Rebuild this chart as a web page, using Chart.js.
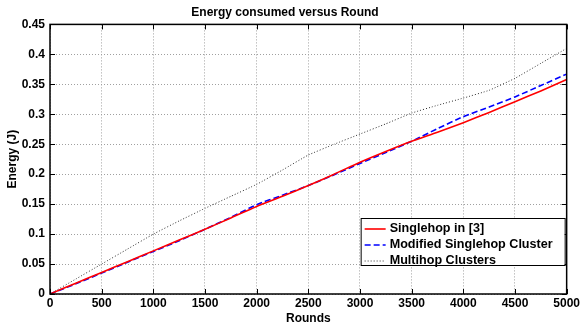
<!DOCTYPE html>
<html>
<head>
<meta charset="utf-8">
<script src="https://cdn.jsdelivr.net/npm/chart.js@4"></script>
<style>
  html, body { margin:0; padding:0; background:#fff; }
  #wrap { width:582px; height:326px; }
</style>
</head>
<body>
<div id="wrap"><canvas id="c" width="582" height="326"></canvas></div>
<script>
// data
const rounds    = [0, 250, 500, 750, 1000, 1250, 1500, 1750, 2000, 2250, 2500, 2750, 3000, 3250, 3500, 3750, 4000, 4250, 4500, 4750, 5000];
const singlehop = [0, 0.018, 0.036, 0.054, 0.072, 0.090, 0.108, 0.127, 0.146, 0.163, 0.181, 0.200, 0.220, 0.238, 0.255, 0.270, 0.286, 0.303, 0.321, 0.339, 0.358];
const modified  = [0, 0.017, 0.035, 0.053, 0.071, 0.089, 0.108, 0.128, 0.149, 0.165, 0.181, 0.199, 0.218, 0.236, 0.255, 0.276, 0.296, 0.312, 0.329, 0.348, 0.367];
const multihop  = [0, 0.025, 0.050, 0.075, 0.100, 0.122, 0.143, 0.163, 0.183, 0.207, 0.232, 0.250, 0.267, 0.284, 0.302, 0.315, 0.327, 0.340, 0.360, 0.385, 0.410];
const seriesNames = ['Singlehop in [3]', 'Modified Singlehop Cluster', 'Multihop Clusters'];
const xTicks = [0, 500, 1000, 1500, 2000, 2500, 3000, 3500, 4000, 4500, 5000];
const yTicks = [0, 0.05, 0.1, 0.15, 0.2, 0.25, 0.3, 0.35, 0.4, 0.45];

const FONT = 'Arial, "Liberation Sans", Helvetica, sans-serif';
const pts = arr => rounds.map((r,i) => ({ x: r, y: arr[i] }));

// MATLAB style box + inward ticks
const boxPlugin = {
  id: 'box',
  afterDatasetsDraw(chart){
    const { ctx, chartArea:a, scales } = chart;
    ctx.save();
    ctx.strokeStyle = '#000';
    ctx.lineWidth = 1;
    ctx.beginPath();
    xTicks.forEach(v => {
      const x = Math.round(scales.x.getPixelForValue(v)) + 0.5;
      ctx.moveTo(x, a.bottom); ctx.lineTo(x, a.bottom - 5);
      ctx.moveTo(x, a.top); ctx.lineTo(x, a.top + 5);
    });
    yTicks.forEach(v => {
      const y = Math.round(scales.y.getPixelForValue(v)) + 0.5;
      ctx.moveTo(a.left, y); ctx.lineTo(a.left + 5, y);
      ctx.moveTo(a.right, y); ctx.lineTo(a.right - 5, y);
    });
    ctx.stroke();
    ctx.lineWidth = 1.5;
    ctx.strokeRect(a.left, a.top, a.right - a.left, a.bottom - a.top);
    ctx.restore();
  }
};

// legend box in lower right of the axes
const legendPlugin = {
  id: 'boxLegend',
  afterDraw(chart){
    const { ctx, chartArea:a } = chart;
    const w = 204, h = 47;
    const x0 = a.right - 2 - w, y0 = a.bottom - 29 - h;
    ctx.save();
    ctx.fillStyle = '#fff';
    ctx.fillRect(x0, y0, w, h);
    ctx.strokeStyle = '#000';
    ctx.lineWidth = 1;
    ctx.strokeRect(x0 + 0.5, y0 + 0.5, w, h);
    ctx.font = 'bold 12.6px ' + FONT;
    ctx.textBaseline = 'middle';
    chart.data.datasets.forEach((ds, i) => {
      const y = y0 + 11 + i * 16;
      ctx.strokeStyle = ds.borderColor;
      ctx.lineWidth = ds.borderWidth;
      ctx.setLineDash(ds.borderDash || []);
      ctx.beginPath();
      ctx.moveTo(x0 + 4, y); ctx.lineTo(x0 + 25, y);
      ctx.stroke();
      ctx.setLineDash([]);
      ctx.fillStyle = '#000';
      ctx.fillText(ds.label, x0 + 29, y);
    });
    ctx.restore();
  }
};

new Chart(document.getElementById('c'), {
  type: 'line',
  data: {
    datasets: [
      { label: seriesNames[0], data: pts(singlehop), borderColor: '#ff0000', borderWidth: 1.6, pointRadius: 0, tension: 0.2 },
      { label: seriesNames[1], data: pts(modified), borderColor: '#0000ff', borderWidth: 1.6, borderDash: [6, 3], pointRadius: 0, tension: 0.2 },
      { label: seriesNames[2], data: pts(multihop), borderColor: '#333333', borderWidth: 1, borderDash: [1, 2], pointRadius: 0, tension: 0.1 }
    ]
  },
  options: {
    responsive: false,
    animation: false,
    layout: { autoPadding: false, padding: { left: 0, right: 12, top: 0, bottom: 0 } },
    plugins: {
      legend: { display: false },
      tooltip: { enabled: false },
      title: {
        display: true, text: 'Energy consumed versus Round', color: '#000',
        font: { family: FONT, size: 12, weight: 'bold' },
        padding: { top: 5, bottom: 5 }
      }
    },
    scales: {
      x: {
        type: 'linear', min: 0, max: 5000,
        afterBuildTicks: s => { s.ticks = xTicks.map(v => ({ value: v })); },
        afterFit: s => { s.height = 32; },
        border: { display: false, dash: [1, 2] },
        grid: { color: '#a0a0a0', lineWidth: 1, drawTicks: false },
        ticks: { color: '#000', padding: 2, maxRotation: 0, font: { family: FONT, size: 12, weight: 'bold' }, callback: v => String(v) },
        title: { display: true, text: 'Rounds', color: '#000', padding: { top: -2, bottom: 0 }, font: { family: FONT, size: 12, weight: 'bold' } }
      },
      y: {
        min: 0, max: 0.45,
        afterBuildTicks: s => { s.ticks = yTicks.map(v => ({ value: v })); },
        afterFit: s => { s.width = 50; },
        border: { display: false, dash: [1, 2] },
        grid: { color: '#a0a0a0', lineWidth: 1, drawTicks: false },
        ticks: { color: '#000', padding: 5, font: { family: FONT, size: 12, weight: 'bold' }, callback: v => String(+v.toFixed(2)) },
        title: { display: true, text: 'Energy (J)', color: '#000', padding: { top: 5, bottom: 0 }, font: { family: FONT, size: 12, weight: 'bold' } }
      }
    }
  },
  plugins: [boxPlugin, legendPlugin]
});
</script>
</body>
</html>
